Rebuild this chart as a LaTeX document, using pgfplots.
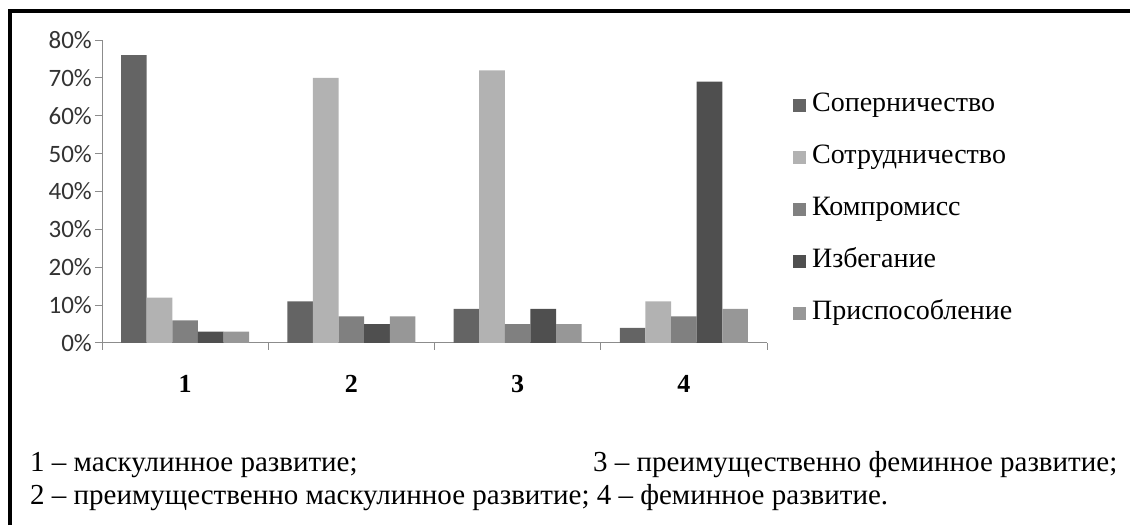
\documentclass[border=0pt]{standalone}
\usepackage{fontspec}
\setmainfont{Liberation Serif}
\newfontfamily\carlito{Carlito}
\usepackage{pgfplots}
\pgfplotsset{compat=1.18}
\definecolor{cA}{HTML}{646464}
\definecolor{cB}{HTML}{B2B2B2}
\definecolor{cC}{HTML}{808080}
\definecolor{cD}{HTML}{4F4F4F}
\definecolor{cE}{HTML}{979797}
\definecolor{axgray}{HTML}{8C8C8C}
\begin{document}
\begin{tikzpicture}[x=1pt,y=1pt]
\path[use as bounding box] (0,0) rectangle (1130,525);
\draw[line width=4pt] (10,0) -- (10,514) -- (1130,514);
\begin{axis}[
  at={(102pt,182pt)}, anchor=south west,
  scale only axis, width=665pt, height=303pt,
  xmin=0.5, xmax=4.5, ymin=0, ymax=80,
  axis x line*=bottom, axis y line*=left,
  axis line style={draw=axgray, line width=1pt},
  tick style={draw=axgray, line width=1pt},
  tick align=outside, major tick length=7pt,
  ytick={0,10,20,30,40,50,60,70,80},
  yticklabels={0\%,10\%,20\%,30\%,40\%,50\%,60\%,70\%,80\%},
  y tick label style={font=\fontsize{25}{25}\selectfont\carlito, color=black!80, inner xsep=3pt},
  xtick={0.5,1.5,2.5,3.5,4.5},
  x tick label as interval,
  xticklabels={1,2,3,4},
  x tick label style={font=\fontsize{26}{26}\selectfont\bfseries, anchor=north, yshift=-22pt},
  ybar=0pt, bar width=25.6pt,
  legend style={at={(1.039,0.830)}, anchor=north west, draw=none, fill=none,
    inner sep=0pt, font=\fontsize{28}{28}\selectfont, row sep=25pt,
    nodes={inner sep=0pt, text height=20pt, text depth=7pt}},
  legend cell align=left,
  legend image code/.code={\fill[#1,draw=none] (0pt,-6.5pt) rectangle (13pt,6.5pt); \path (19pt,0pt);},
]
\addplot[fill=cA, draw=none] coordinates {(1,76) (2,11) (3,9) (4,4)};
\addplot[fill=cB, draw=none] coordinates {(1,12) (2,70) (3,72) (4,11)};
\addplot[fill=cC, draw=none] coordinates {(1,6) (2,7) (3,5) (4,7)};
\addplot[fill=cD, draw=none] coordinates {(1,3) (2,5) (3,9) (4,69)};
\addplot[fill=cE, draw=none] coordinates {(1,3) (2,7) (3,5) (4,9)};
\legend{Соперничество,Сотрудничество,Компромисс,Избегание,Приспособление}
\end{axis}
\node[anchor=base west, inner sep=0pt, font=\fontsize{29}{29}\selectfont] at (30,53) {1 – маскулинное развитие;};
\node[anchor=base west, inner sep=0pt, font=\fontsize{29}{29}\selectfont] at (593,53) {3 – преимущественно феминное развитие;};
\node[anchor=base west, inner sep=0pt, font=\fontsize{29}{29}\selectfont] at (30,21) {2 – преимущественно маскулинное развитие; 4 – феминное развитие.};
\end{tikzpicture}
\end{document}
